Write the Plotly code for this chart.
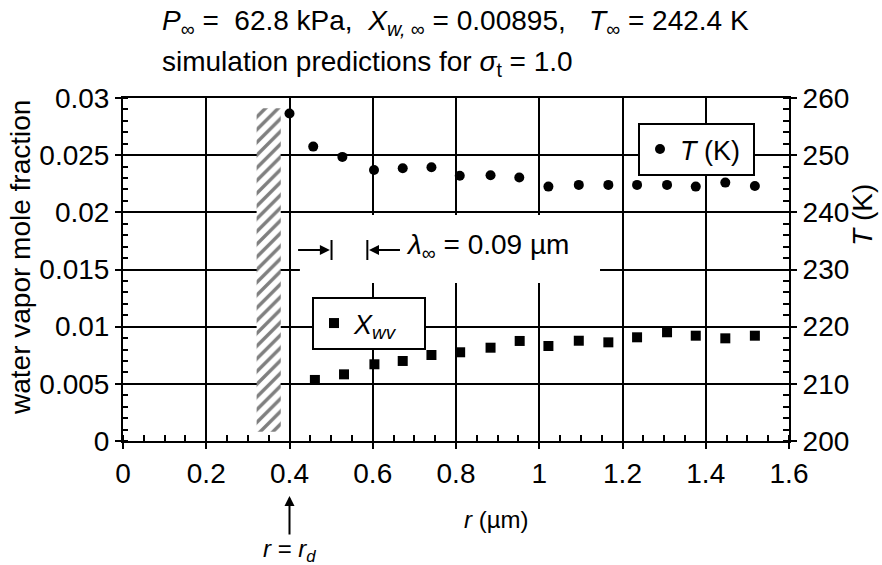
import plotly.graph_objects as go

# ---- data ----
r_T = [0.400, 0.457, 0.527, 0.603, 0.672, 0.741, 0.809, 0.883, 0.952, 1.022,
       1.095, 1.166, 1.235, 1.307, 1.376, 1.447, 1.518]
T_K = [257.3, 251.5, 249.7, 247.4, 247.7, 247.9, 246.4, 246.5, 246.1, 244.5,
       244.8, 244.8, 244.8, 244.8, 244.5, 245.2, 244.6]

r_X = [0.461, 0.531, 0.604, 0.672, 0.741, 0.810, 0.883, 0.953, 1.022, 1.095,
       1.166, 1.235, 1.307, 1.376, 1.447, 1.518]
X_wv = [0.00534, 0.00583, 0.00671, 0.00700, 0.00752, 0.00776, 0.00816, 0.00875,
        0.00831, 0.00877, 0.00863, 0.00907, 0.00951, 0.00921, 0.00898, 0.00921]

x_ticks = [0, 0.2, 0.4, 0.6, 0.8, 1.0, 1.2, 1.4, 1.6]
x_ticklabels = ["0", "0.2", "0.4", "0.6", "0.8", "1", "1.2", "1.4", "1.6"]
y_ticks = [0, 0.005, 0.01, 0.015, 0.02, 0.025, 0.03]
y_ticklabels = ["0", "0.005", "0.01", "0.015", "0.02", "0.025", "0.03"]
y2_ticks = [200, 210, 220, 230, 240, 250, 260]

# droplet wall (hatched band)
wall_x = [0.321, 0.379, 0.379, 0.321, 0.321]
wall_y = [0.0008, 0.0008, 0.0291, 0.0291, 0.0008]

FONT = "Liberation Sans, Arial, Helvetica, sans-serif"
FS = 28
nb = "\u00a0"

fig = go.Figure()

fig.add_trace(go.Scatter(
    x=wall_x, y=wall_y, mode="lines", fill="toself",
    line=dict(width=0, color="rgba(0,0,0,0)"),
    fillcolor="white",
    fillpattern=dict(shape="/", fgcolor="black", bgcolor="white",
                     size=9, solidity=0.38),
    showlegend=False, hoverinfo="skip"))

fig.add_trace(go.Scatter(
    x=r_T, y=T_K, mode="markers", yaxis="y2",
    marker=dict(symbol="circle", size=10, color="black"),
    name=f"<i>T</i> (K){nb}", legend="legend"))

fig.add_trace(go.Scatter(
    x=r_X, y=X_wv, mode="markers",
    marker=dict(symbol="square", size=10, color="black"),
    name=f"<i>X</i><sub><i>wv</i></sub>{nb}{nb}{nb}", legend="legend2"))

W, H = 882, 565
L, R, T, B = 123, 93, 98, 124

axis_common = dict(
    showline=True, linecolor="black", linewidth=2,
    ticks="outside", ticklen=6, tickwidth=2, tickcolor="black",
    tickfont=dict(family=FONT, size=FS, color="black"),
    zeroline=False,
)

fig.update_layout(
    width=W, height=H,
    margin=dict(l=L, r=R, t=T, b=B),
    paper_bgcolor="white", plot_bgcolor="white",
    font=dict(family=FONT, size=FS, color="black"),
    xaxis=dict(
        range=[0, 1.6], tickmode="array", tickvals=x_ticks, ticktext=x_ticklabels,
        showgrid=True, gridcolor="black", gridwidth=2, mirror=True,
        minor=dict(dtick=0.05, ticks="inside", ticklen=6, tickwidth=1.5,
                   tickcolor="black", showgrid=False),
        **axis_common),
    yaxis=dict(
        range=[0, 0.03], tickmode="array", tickvals=y_ticks, ticktext=y_ticklabels,
        showgrid=True, gridcolor="black", gridwidth=2,
        minor=dict(dtick=0.001, ticks="inside", ticklen=5, tickwidth=1.5,
                   tickcolor="black", showgrid=False),
        **axis_common),
    yaxis2=dict(
        range=[200, 260], tickmode="array", tickvals=y2_ticks,
        overlaying="y", side="right", showgrid=False,
        minor=dict(dtick=2, ticks="inside", ticklen=6, tickwidth=1.5,
                   tickcolor="black", showgrid=False),
        **axis_common),
    legend=dict(
        x=(638 - L) / (W - L - R), y=(441 - 123) / (H - T - B),
        xanchor="left", yanchor="top",
        bgcolor="white", bordercolor="black", borderwidth=2,
        font=dict(family=FONT, size=27, color="black"),
        itemsizing="trace"),
    legend2=dict(
        x=(312 - L) / (W - L - R), y=(441 - 297) / (H - T - B),
        xanchor="left", yanchor="top",
        bgcolor="white", bordercolor="black", borderwidth=2,
        font=dict(family=FONT, size=27, color="black"),
        itemsizing="trace"),
    showlegend=True,
)

pw, ph = W - L - R, H - T - B


def px_x(p):
    return (p - L) / pw


def px_y(p):
    return (441 - p) / ph


shapes = []
# white area behind the mean-free-path annotation (interrupts grid)
shapes.append(dict(type="rect", xref="x", yref="y", x0=0.425, x1=1.146,
                   y0=0.01382, y1=0.01977, fillcolor="white",
                   line=dict(width=0), layer="above"))
# bars marking the mean free path
for xb in (0.501, 0.587):
    shapes.append(dict(type="line", xref="x", yref="y", x0=xb, x1=xb,
                       y0=0.01583, y1=0.01758,
                       line=dict(color="black", width=2), layer="above"))
fig.update_layout(shapes=shapes)

ann = []
ann.append(dict(
    xref="paper", yref="paper", x=px_x(160), y=px_y(22),
    xanchor="left", yanchor="middle", showarrow=False,
    text=f"<i>P</i><sub>∞</sub>{nb}={nb}{nb}62.8 kPa,{nb}{nb}<i>X</i><sub><i>w,</i>{nb}∞</sub>{nb}={nb}0.00895,{nb}{nb}{nb}<i>T</i><sub>∞</sub>{nb}={nb}242.4 K",
    font=dict(family=FONT, size=FS, color="black")))
ann.append(dict(
    xref="paper", yref="paper", x=px_x(160), y=px_y(64),
    xanchor="left", yanchor="middle", showarrow=False,
    text="simulation predictions for <i>σ</i><sub>t</sub> = 1.0",
    font=dict(family=FONT, size=FS, color="black")))
# axis titles
ann.append(dict(
    xref="paper", yref="paper", x=px_x(20), y=px_y(258),
    xanchor="center", yanchor="middle", showarrow=False, textangle=-90,
    text="water vapor mole fraction",
    font=dict(family=FONT, size=FS, color="black")))
ann.append(dict(
    xref="paper", yref="paper", x=px_x(862), y=px_y(215),
    xanchor="center", yanchor="middle", showarrow=False, textangle=-90,
    text="<i>T</i> (K)",
    font=dict(family=FONT, size=FS, color="black")))
ann.append(dict(
    xref="paper", yref="paper", x=px_x(496), y=px_y(519),
    xanchor="center", yanchor="middle", showarrow=False,
    text="<i>r</i> (µm)",
    font=dict(family=FONT, size=24, color="black")))
# r = r_d marker
ann.append(dict(
    xref="x", yref="paper", x=0.4, y=px_y(550),
    xanchor="center", yanchor="middle", showarrow=False,
    text="<i>r</i> = <i>r</i><sub><i>d</i></sub>",
    font=dict(family=FONT, size=24, color="black")))
ann.append(dict(
    xref="x", yref="paper", x=0.4, y=px_y(496),
    ax=0, ay=40, showarrow=True, text="",
    arrowhead=2, arrowsize=1, arrowwidth=2, arrowcolor="black"))
# mean-free-path arrows
ann.append(dict(
    xref="x", yref="y", x=0.497, y=0.01671, axref="x", ayref="y",
    ax=0.417, ay=0.01671, showarrow=True, text="",
    arrowhead=2, arrowsize=1, arrowwidth=2, arrowcolor="black"))
ann.append(dict(
    xref="x", yref="y", x=0.591, y=0.01671, axref="x", ayref="y",
    ax=0.669, ay=0.01671, showarrow=True, text="",
    arrowhead=2, arrowsize=1, arrowwidth=2, arrowcolor="black"))
ann.append(dict(
    xref="x", yref="y", x=0.675, y=0.01697,
    xanchor="left", yanchor="middle", showarrow=False,
    text="<i>λ</i><sub>∞</sub> = 0.09 µm",
    font=dict(family=FONT, size=FS, color="black")))
fig.update_layout(annotations=ann)

fig.write_html("out.html")
